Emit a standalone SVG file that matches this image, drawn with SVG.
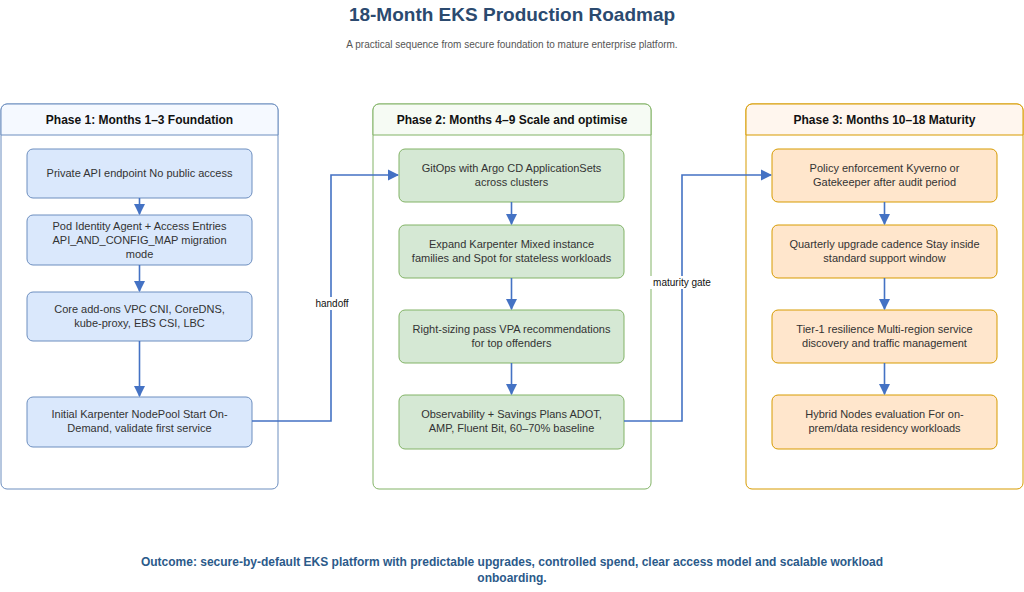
<svg xmlns="http://www.w3.org/2000/svg" width="1024" height="592" viewBox="0 0 1024 592">
<style>
text{font-family:"Liberation Sans",Arial,sans-serif}
.n{font-size:11px;fill:#333;text-anchor:middle}
.h{font-size:12px;font-weight:bold;fill:#111;text-anchor:middle}
.b1{fill:#dae8fc;stroke:#6c8ebf}
.b2{fill:#d5e8d4;stroke:#82b366}
.b3{fill:#ffe6cc;stroke:#d79b00}
.e{fill:none;stroke:#4472c4;stroke-width:1.6}
.l{font-size:10px;fill:#111;text-anchor:middle}
</style>
<defs><marker id="a" viewBox="0 0 10 10" refX="9" refY="5" markerWidth="7" markerHeight="7" orient="auto"><path d="M0,0 L10,5 L0,10 z" fill="#4472c4"/></marker></defs>
<rect width="1024" height="592" fill="#fff"/>
<text x="512" y="21" font-size="19" font-weight="bold" fill="#2b4a6f" text-anchor="middle">18-Month EKS Production Roadmap</text>
<text x="512" y="48" font-size="10" fill="#555" text-anchor="middle">A practical sequence from secure foundation to mature enterprise platform.</text>
<g id="phase1">
<rect x="1" y="104" width="277" height="385" rx="6" fill="#fff" stroke="#6c8ebf"/>
<path d="M1,135 V110 a6,6 0 0 1 6,-6 H272 a6,6 0 0 1 6,6 V135 z" fill="#f5f9ff" stroke="#6c8ebf"/>
<text class="h" x="139.5" y="124">Phase 1: Months 1–3 Foundation</text>
</g>
<g id="phase2">
<rect x="373" y="104" width="278" height="385" rx="6" fill="#fff" stroke="#82b366"/>
<path d="M373,135 V110 a6,6 0 0 1 6,-6 H645 a6,6 0 0 1 6,6 V135 z" fill="#f6fbf4" stroke="#82b366"/>
<text class="h" x="512" y="124">Phase 2: Months 4–9 Scale and optimise</text>
</g>
<g id="phase3">
<rect x="746" y="104" width="277" height="385" rx="6" fill="#fff" stroke="#d79b00"/>
<path d="M746,135 V110 a6,6 0 0 1 6,-6 H1017 a6,6 0 0 1 6,6 V135 z" fill="#fff6ee" stroke="#d79b00"/>
<text class="h" x="884.5" y="124">Phase 3: Months 10–18 Maturity</text>
</g>
<g id="p1n1"><rect class="b1" x="27" y="149" width="225" height="49" rx="6"/><text class="n" x="139.5" y="177">Private API endpoint No public access</text></g>
<g id="p1n2"><rect class="b1" x="27" y="215" width="225" height="50" rx="6"/><text class="n" x="139.5" y="230">Pod Identity Agent + Access Entries</text><text class="n" x="139.5" y="244">API_AND_CONFIG_MAP migration</text><text class="n" x="139.5" y="258">mode</text></g>
<g id="p1n3"><rect class="b1" x="27" y="292" width="225" height="49" rx="6"/><text class="n" x="139.5" y="313">Core add-ons VPC CNI, CoreDNS,</text><text class="n" x="139.5" y="327">kube-proxy, EBS CSI, LBC</text></g>
<g id="p1n4"><rect class="b1" x="27" y="397" width="225" height="50" rx="6"/><text class="n" x="139.5" y="418">Initial Karpenter NodePool Start On-</text><text class="n" x="139.5" y="432">Demand, validate first service</text></g>
<g id="p2n1"><rect class="b2" x="399" y="149" width="225" height="53" rx="6"/><text class="n" x="511.5" y="172">GitOps with Argo CD ApplicationSets</text><text class="n" x="511.5" y="186">across clusters</text></g>
<g id="p2n2"><rect class="b2" x="399" y="225" width="225" height="53" rx="6"/><text class="n" x="511.5" y="248">Expand Karpenter Mixed instance</text><text class="n" x="511.5" y="262">families and Spot for stateless workloads</text></g>
<g id="p2n3"><rect class="b2" x="399" y="310" width="225" height="53" rx="6"/><text class="n" x="511.5" y="333">Right-sizing pass VPA recommendations</text><text class="n" x="511.5" y="347">for top offenders</text></g>
<g id="p2n4"><rect class="b2" x="399" y="395" width="225" height="54" rx="6"/><text class="n" x="511.5" y="418">Observability + Savings Plans ADOT,</text><text class="n" x="511.5" y="432">AMP, Fluent Bit, 60–70% baseline</text></g>
<g id="p3n1"><rect class="b3" x="772" y="149" width="225" height="53" rx="6"/><text class="n" x="884.5" y="172">Policy enforcement Kyverno or</text><text class="n" x="884.5" y="186">Gatekeeper after audit period</text></g>
<g id="p3n2"><rect class="b3" x="772" y="225" width="225" height="53" rx="6"/><text class="n" x="884.5" y="248">Quarterly upgrade cadence Stay inside</text><text class="n" x="884.5" y="262">standard support window</text></g>
<g id="p3n3"><rect class="b3" x="772" y="310" width="225" height="53" rx="6"/><text class="n" x="884.5" y="333">Tier-1 resilience Multi-region service</text><text class="n" x="884.5" y="347">discovery and traffic management</text></g>
<g id="p3n4"><rect class="b3" x="772" y="395" width="225" height="54" rx="6"/><text class="n" x="884.5" y="418">Hybrid Nodes evaluation For on-</text><text class="n" x="884.5" y="432">prem/data residency workloads</text></g>
<g id="connectors">
<path class="e" marker-end="url(#a)" d="M139.5,198 V214"/>
<path class="e" marker-end="url(#a)" d="M139.5,265 V291"/>
<path class="e" marker-end="url(#a)" d="M139.5,341 V396"/>
<path class="e" marker-end="url(#a)" d="M511.5,202 V224"/>
<path class="e" marker-end="url(#a)" d="M511.5,278 V309"/>
<path class="e" marker-end="url(#a)" d="M511.5,363 V394"/>
<path class="e" marker-end="url(#a)" d="M884.5,202 V224"/>
<path class="e" marker-end="url(#a)" d="M884.5,278 V309"/>
<path class="e" marker-end="url(#a)" d="M884.5,363 V394"/>
<path class="e" marker-end="url(#a)" d="M252,421 H331 V175 H398"/>
<path class="e" marker-end="url(#a)" d="M624,421 H682 V175 H771"/>
<rect x="312" y="297" width="40" height="13" fill="#fff"/>
<text class="l" x="332" y="307">handoff</text>
<rect x="650" y="276" width="64" height="13" fill="#fff"/>
<text class="l" x="682" y="286">maturity gate</text>
</g>
<text x="512" y="566" font-size="12" font-weight="bold" fill="#2b5a8a" text-anchor="middle">Outcome: secure-by-default EKS platform with predictable upgrades, controlled spend, clear access model and scalable workload</text>
<text x="512" y="582" font-size="12" font-weight="bold" fill="#2b5a8a" text-anchor="middle">onboarding.</text>
</svg>
